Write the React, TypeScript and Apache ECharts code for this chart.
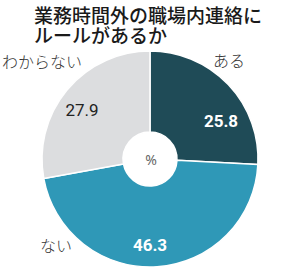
import React, { useEffect, useRef } from "react";
import * as echarts from "echarts";

const categories = ["ある", "ない", "わからない"];
const values = [25.8, 46.3, 27.9];
const titleLines = ["業務時間外の職場内連絡に", "ルールがあるか"];
const unitLabel = "%";

const sliceColors = ["#1f4b57", "#2f98b7", "#dcdddf"];
const valueColors = ["#ffffff", "#ffffff", "#222222"];
// label anchor positions (layout only)
const valuePos = [[221, 121], [150, 245], [82, 110]];
const namePos = [[229, 60], [56, 245], [42, 61]];

export default function App() {
  const ref = useRef<HTMLDivElement>(null);
  useEffect(() => {
    if (!ref.current) return;
    const chart = echarts.init(ref.current, null, { renderer: "svg" });
    const data = categories.map((c, i) => ({
      name: c,
      value: values[i],
      itemStyle: { color: sliceColors[i] },
      label: { color: valueColors[i], fontWeight: i < 2 ? "bold" : "normal" },
    }));
    const nameData = categories.map((c, i) => ({ name: c, value: values[i] }));
    chart.setOption({
      animation: false,
      title: {
        text: titleLines.join("\n"),
        left: 29,
        top: 0,
        padding: [4, 5],
        textStyle: {
          fontFamily: "'Noto Sans CJK JP', sans-serif",
          fontSize: 19,
          lineHeight: 20,
          fontWeight: 500,
          color: "#1a1a1a",
        },
      },
      graphic: [
        {
          type: "text",
          x: 151,
          y: 159,
          style: {
            text: unitLabel,
            fill: "#666",
            fontSize: 14,
            fontFamily: "'Noto Sans', sans-serif",
            align: "center",
            verticalAlign: "middle",
          },
        },
      ],
      series: [
        {
          type: "pie",
          center: [150, 159],
          radius: [27, 108],
          startAngle: 90,
          clockwise: true,
          silent: true,
          itemStyle: { borderColor: "#ffffff", borderWidth: 1.5 },
          label: {
            show: true,
            position: "inside",
            formatter: (p: any) => p.value.toFixed(1),
            fontSize: 17,
            fontFamily: "'Roboto', sans-serif",
          },
          labelLine: { show: false },
          labelLayout: (p: any) => ({
            x: valuePos[p.dataIndex][0],
            y: valuePos[p.dataIndex][1],
            align: "center",
            verticalAlign: "middle",
          }),
          data,
        },
        {
          type: "pie",
          center: [150, 159],
          radius: [27, 108],
          startAngle: 90,
          clockwise: true,
          silent: true,
          z: 1,
          itemStyle: { color: "transparent", borderWidth: 0 },
          label: {
            show: true,
            position: "inside",
            formatter: "{b}",
            fontSize: 16,
            fontFamily: "'Noto Sans CJK JP', sans-serif",
            fontWeight: 300,
            color: "#333333",
          },
          labelLine: { show: false },
          labelLayout: (p: any) => ({
            x: namePos[p.dataIndex][0],
            y: namePos[p.dataIndex][1],
            align: "center",
            verticalAlign: "middle",
          }),
          data: nameData,
        },
      ],
    });
    return () => chart.dispose();
  }, []);
  return (
    <div
      ref={ref}
      style={{ position: "fixed", left: 0, top: 0, width: 294, height: 276, background: "#fff" }}
    />
  );
}
